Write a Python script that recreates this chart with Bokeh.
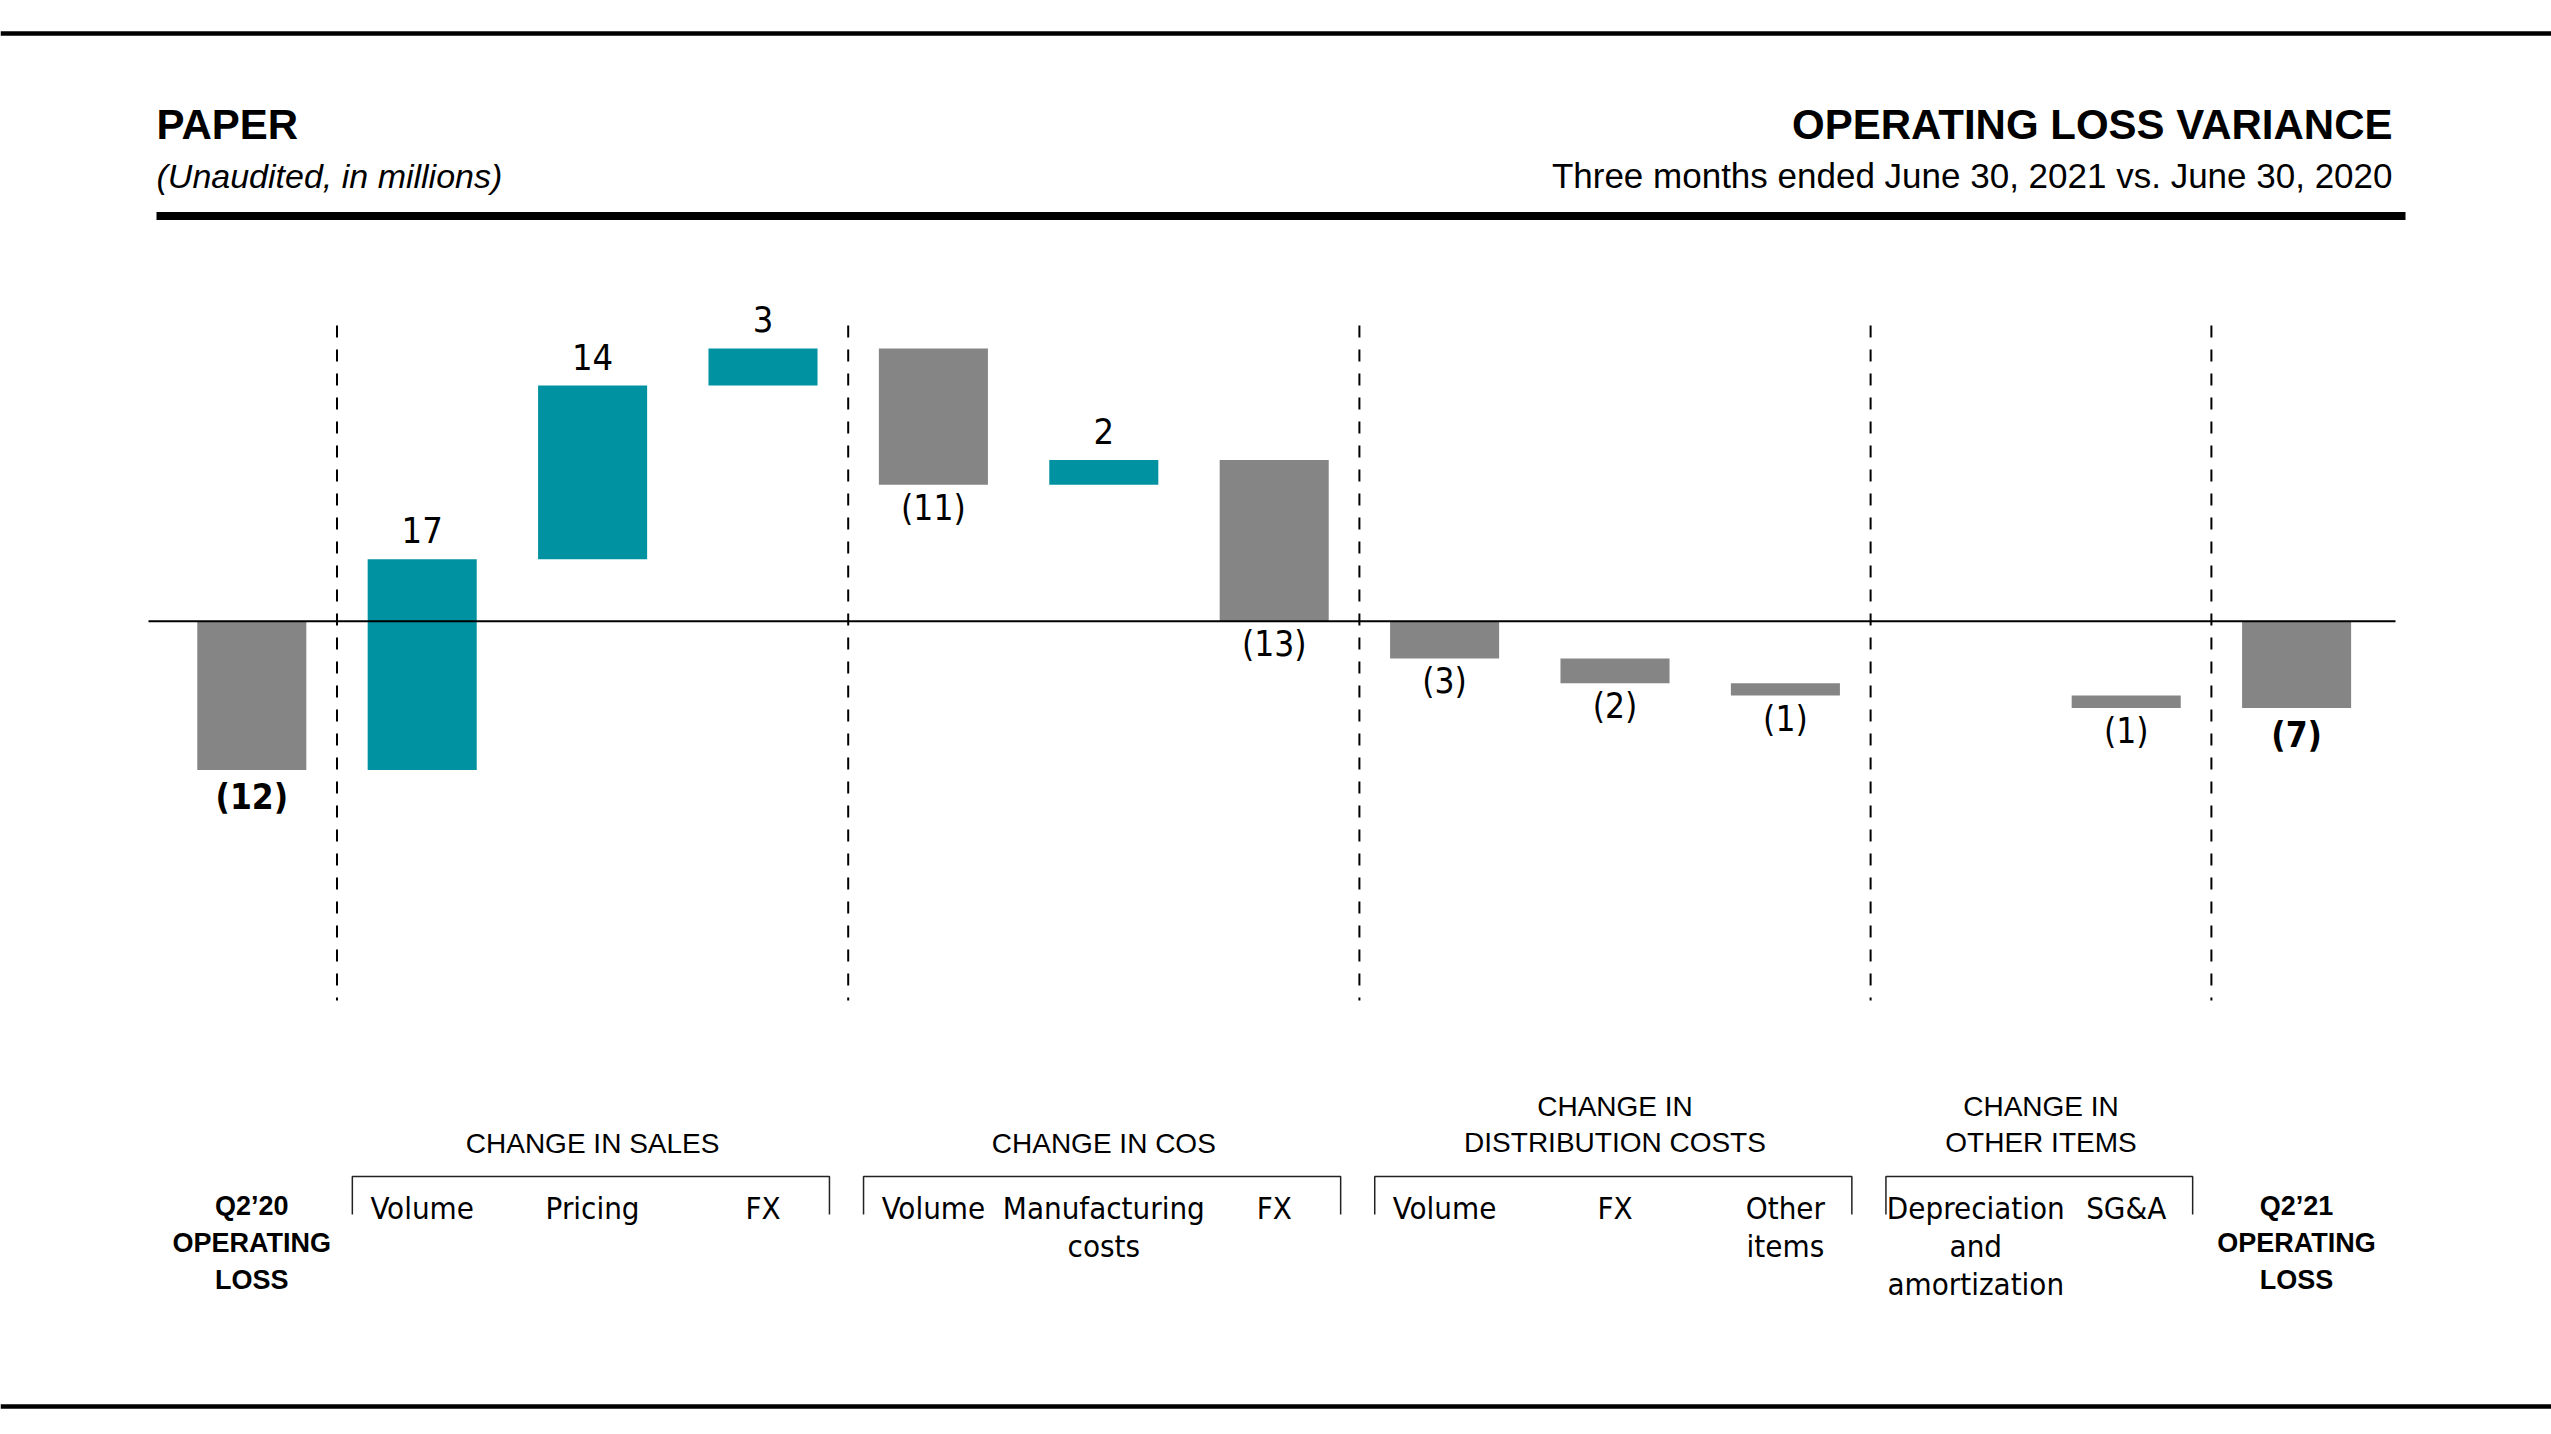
from bokeh.plotting import figure
from bokeh.models import ColumnDataSource, Range1d, Label, Span
from bokeh.core.properties import value
from bokeh.embed import file_html
from bokeh.resources import INLINE

# ---------------- data ----------------
categories = ["Q2'20 OPERATING LOSS", "Volume", "Pricing", "FX", "Volume",
              "Manufacturing costs", "FX", "Volume", "FX", "Other items",
              "Depreciation and amortization", "SG&A", "Q2'21 OPERATING LOSS"]
tick_labels = ["Q2\u201920\nOPERATING\nLOSS", "Volume", "Pricing", "FX", "Volume",
               "Manufacturing\ncosts", "FX", "Volume", "FX", "Other\nitems",
               "Depreciation\nand\namortization", "SG&A", "Q2\u201921\nOPERATING\nLOSS"]
changes = [-12, 17, 14, 3, -11, 2, -13, -3, -2, -1, 0, -1, -7]
is_total = [True, False, False, False, False, False, False, False, False, False, False, False, True]
group_names = ["CHANGE IN SALES", "CHANGE IN COS", "CHANGE IN\nDISTRIBUTION COSTS", "CHANGE IN\nOTHER ITEMS"]
group_first = [1, 4, 7, 10]
group_last = [3, 6, 9, 11]
title_left = "PAPER"
subtitle_left = "(Unaudited, in millions)"
title_right = "OPERATING LOSS VARIANCE"
subtitle_right = "Three months ended June 30, 2021 vs. June 30, 2020"

# ---------------- style / layout ----------------
W, H = 2551, 1434
X0, SX = 251.3, 170.4     # pixel of first slot, pixels per slot
Y0, SY = 620.7, 12.4      # pixel of zero line, pixels per unit
TEAL = "#0092A0"
GREY = "#858585"
NARROW = "DejaVu Sans Condensed, Noto Sans Condensed, Roboto Condensed, Roboto"
SANS = "Liberation Sans"


def dx(px):
    return (px - X0) / SX


def dy(py):
    return (Y0 - py) / SY


p = figure(width=W, height=H, output_backend="svg", toolbar_location=None,
           x_range=Range1d(dx(0), dx(W)), y_range=Range1d(dy(H), dy(0)),
           x_axis_location=None, y_axis_location=None, min_border=0,
           outline_line_color=None, background_fill_color="white",
           border_fill_color="white")
p.grid.visible = False

# ---------------- waterfall geometry ----------------
xs, bots, tops, cols = [], [], [], []
pos_x, pos_y, pos_t = [], [], []
neg_x, neg_y, neg_t = [], [], []
tot_x, tot_y, tot_t = [], [], []
running = 0
for i, (c, tot) in enumerate(zip(changes, is_total)):
    if tot:
        a, b = 0, c
        running = c
    else:
        a, b = running, running + c
        running = running + c
    if c == 0:
        continue
    lo, hi = min(a, b), max(a, b)
    xs.append(i)
    bots.append(lo)
    tops.append(hi)
    cols.append(GREY if (tot or c < 0) else TEAL)
    txt = str(c) if c > 0 else "(%d)" % abs(c)
    if tot:
        tot_x.append(i); tot_y.append(lo); tot_t.append(txt)
    elif c > 0:
        pos_x.append(i); pos_y.append(hi); pos_t.append(txt)
    else:
        neg_x.append(i); neg_y.append(lo); neg_t.append(txt)

bars = ColumnDataSource(dict(x=xs, bottom=bots, top=tops, color=cols))
p.vbar(x="x", bottom="bottom", top="top", width=0.64, fill_color="color",
       line_color=None, source=bars)

# zero line
p.segment(x0=dx(148), x1=dx(2395), y0=0, y1=0, line_color="black", line_width=2)

# dashed separators between groups
sep_x = [g - 0.5 for g in group_first] + [len(categories) - 1.5]
p.segment(x0=sep_x, x1=sep_x, y0=[dy(325)] * len(sep_x), y1=[dy(1000)] * len(sep_x),
          line_color="black", line_width=2, line_dash="12 12")

# value labels
p.text(x=pos_x, y=pos_y, text=pos_t, text_font=value(NARROW), text_font_size="36px",
       text_align="center", text_baseline="bottom", y_offset=-16, text_color="black")
p.text(x=neg_x, y=neg_y, text=neg_t, text_font=value(NARROW), text_font_size="35px",
       text_align="center", text_baseline="top", y_offset=3, text_color="black")
p.text(x=tot_x, y=tot_y, text=tot_t, text_font=value(NARROW), text_font_size="35px",
       text_font_style="bold", text_align="center", text_baseline="top", y_offset=7,
       text_color="black")

# category labels
idx = list(range(len(categories)))
item_idx = [i for i in idx if not is_total[i]]
item_off = [20 if tick_labels[i].count("\n") > 1 else 0 for i in item_idx]
p.text(x=item_idx, y=[dy(1189)] * len(item_idx), text=[tick_labels[i] for i in item_idx],
       x_offset=item_off, text_font=value(NARROW), text_font_size="31px",
       text_align="center", text_baseline="top", text_line_height=1.06, text_color="black")
tot_idx = [i for i in idx if is_total[i]]
p.text(x=tot_idx, y=[dy(1190)] * len(tot_idx), text=[tick_labels[i] for i in tot_idx],
       text_font=value(SANS), text_font_size="27px", text_font_style="bold",
       text_align="center", text_baseline="top", text_line_height=1.24, text_color="black")

# group headers + brackets
gx = [(a + b) / 2 for a, b in zip(group_first, group_last)]
p.text(x=gx, y=[dy(1158)] * len(gx), text=group_names, text_font=value(SANS),
       text_font_size="28px", text_align="center", text_baseline="bottom",
       text_line_height=1.17, text_color="black")
bx, by = [], []
for a, b in zip(group_first, group_last):
    l, r = a - 0.41, b + 0.39
    bx.append([l, l, r, r])
    by.append([dy(1214), dy(1176), dy(1176), dy(1214)])
p.multi_line(xs=bx, ys=by, line_color="#222222", line_width=1.5)

# header texts and rules
p.add_layout(Span(location=dy(33), dimension="width", line_color="black", line_width=4.5))
p.add_layout(Span(location=dy(1406), dimension="width", line_color="black", line_width=4.5))
p.segment(x0=dx(156), x1=dx(2405), y0=dy(215.5), y1=dy(215.5), line_color="black",
          line_width=8, line_cap="butt")
p.add_layout(Label(x=dx(156), y=dy(124), text=title_left, text_font=SANS,
                   text_font_size="42px", text_font_style="bold", text_color="black",
                   text_align="left", text_baseline="alphabetic"))
p.add_layout(Label(x=dx(156), y=dy(175), text=subtitle_left, text_font=SANS,
                   text_font_size="34px", text_font_style="italic", text_color="black",
                   text_align="left", text_baseline="alphabetic"))
p.add_layout(Label(x=dx(2392), y=dy(124), text=title_right, text_font=SANS,
                   text_font_size="42px", text_font_style="bold", text_color="black",
                   text_align="right", text_baseline="alphabetic"))
p.add_layout(Label(x=dx(2392), y=dy(175), text=subtitle_right, text_font=SANS,
                   text_font_size="35px", text_color="black",
                   text_align="right", text_baseline="alphabetic"))

open("out.html", "w").write(file_html(p, INLINE))
